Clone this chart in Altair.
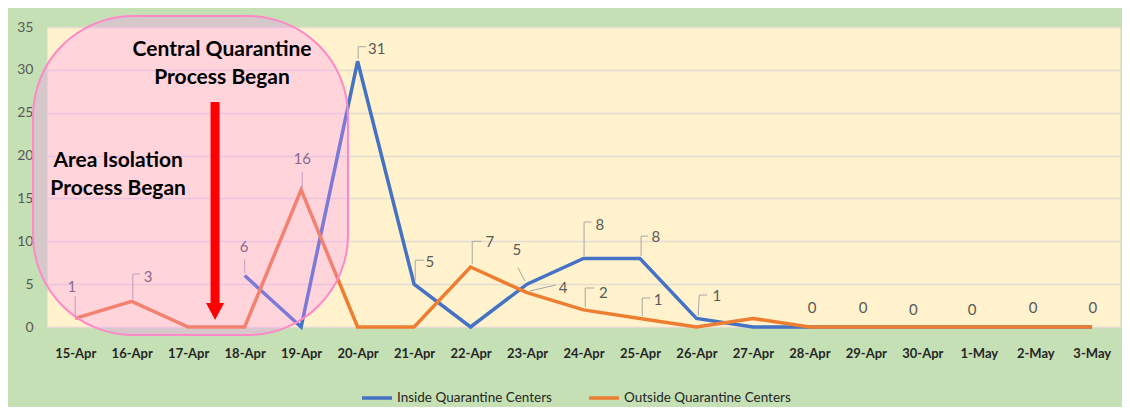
import altair as alt
import pandas as pd

# ---------------- data ----------------
dates = ["15-Apr", "16-Apr", "17-Apr", "18-Apr", "19-Apr", "20-Apr", "21-Apr",
         "22-Apr", "23-Apr", "24-Apr", "25-Apr", "26-Apr", "27-Apr", "28-Apr",
         "29-Apr", "30-Apr", "1-May", "2-May", "3-May"]
inside = [None, None, None, 6, 0, 31, 5, 0, 5, 8, 8, 1, 0, 0, 0, 0, 0, 0, 0]
outside = [1, 3, 0, 0, 16, 0, 0, 7, 4, 2, 1, 0, 1, 0, 0, 0, 0, 0, 0]
series_names = ["Inside Quarantine Centers", "Outside Quarantine Centers"]
series_colors = ["#4472C4", "#ED7D31"]
y_ticks = [0, 5, 10, 15, 20, 25, 30, 35]

# data labels: text, position (x in category index units, y in value units)
label_text = ["1", "3", "6", "16", "31", "5", "7", "5", "4", "8", "2", "8", "1", "1",
              "0", "0", "0", "0", "0", "0"]
label_x = [-0.06, 1.29, 2.99, 4.02, 5.34, 6.28, 7.34, 7.82, 8.64, 9.29, 9.35, 10.28,
           10.32, 11.36, 13.05, 13.95, 14.84, 15.88, 16.96, 18.02]
label_y = [4.67, 5.83, 9.33, 19.6, 32.43, 7.58, 9.92, 8.98, 4.55, 11.9, 3.97, 10.5,
           3.15, 3.62, 2.22, 2.22, 1.98, 1.98, 2.22, 2.22]

# leader lines (polylines) for the data labels
leaders = [
    [(0.0, 1.17), (0.0, 3.62)],
    [(1.02, 3.27), (1.02, 6.18), (1.15, 6.18)],
    [(3.0, 6.3), (3.0, 7.9)],
    [(4.02, 16.2), (4.02, 18.1)],
    [(5.01, 31.3), (5.01, 32.7), (5.15, 32.7)],
    [(6.02, 5.4), (6.02, 7.8), (6.18, 7.8)],
    [(7.03, 7.35), (7.03, 10.0), (7.19, 10.0)],
    [(7.96, 5.37), (7.84, 6.9)],
    [(8.05, 4.2), (8.51, 4.9)],
    [(9.01, 8.28), (9.01, 12.25), (9.14, 12.25)],
    [(9.03, 2.33), (9.03, 4.55), (9.19, 4.55)],
    [(10.02, 8.28), (10.02, 10.6), (10.14, 10.6)],
    [(10.04, 1.28), (10.04, 3.38), (10.18, 3.38)],
    [(11.03, 1.28), (11.05, 3.73), (11.19, 3.73)],
]

# annotations
note_text = ["Central Quarantine", "Process Began", "Area Isolation", "Process Began"]
note_x = [2.60, 2.60, 0.76, 0.76]
note_y = [32.3, 29.05, 19.37, 16.1]
box = {"x": -0.747, "x2": 4.83, "y": 36.28, "y2": -0.93}
arrow_x = 2.476
arrow_top = 26.25
arrow_shaft_end = 2.57
arrow_head_y = 1.75

# ---------------- tables ----------------
rows = []
for name, vals in zip(series_names, [inside, outside]):
    for i, v in enumerate(vals):
        if v is not None:
            rows.append({"x": i, "y": v, "series": name})
df_lines = pd.DataFrame(rows)
df_labels = pd.DataFrame({"x": label_x, "y": label_y, "t": label_text})
lrows = []
for k, pts in enumerate(leaders):
    for j, (px, py) in enumerate(pts):
        lrows.append({"id": k, "o": j, "x": px, "y": py})
df_leaders = pd.DataFrame(lrows)
df_notes = pd.DataFrame({"x": note_x, "y": note_y, "t": note_text})
df_box = pd.DataFrame([box])
df_shaft = pd.DataFrame([{"x": arrow_x, "y": arrow_top, "y2": arrow_shaft_end}])
df_head = pd.DataFrame([{"x": arrow_x, "y": arrow_head_y}])

label_expr = "[" + ",".join("'%s'" % d for d in dates) + "][datum.value]"

x_enc = alt.X("x:Q",
              scale=alt.Scale(domain=[-0.5, len(dates) - 0.5], nice=False, zero=False),
              axis=alt.Axis(values=list(range(len(dates))), labelExpr=label_expr,
                            grid=False, ticks=False, domain=False, title=None,
                            labelFont="Lato", labelFontSize=13, labelFontWeight="bold",
                            labelColor="#262626", labelPadding=20, labelAngle=0))
y_enc = alt.Y("y:Q",
              scale=alt.Scale(domain=[0, 35], nice=False, zero=False),
              axis=alt.Axis(values=y_ticks, grid=True, gridColor="#E4DCD2",
                            gridWidth=1.5, ticks=False, domain=False, title=None,
                            labelFont="Lato", labelFontSize=14, labelColor="#595959",
                            labelPadding=14))

lines = alt.Chart(df_lines).mark_line(strokeWidth=3.5).encode(
    x=x_enc, y=y_enc,
    color=alt.Color("series:N",
                    scale=alt.Scale(domain=series_names, range=series_colors),
                    legend=alt.Legend(orient="none", legendX=313, legendY=354,
                                      direction="horizontal", title=None,
                                      symbolType="stroke", symbolStrokeWidth=3.5,
                                      symbolSize=900, labelFont="Lato",
                                      labelFontSize=13.5, labelColor="#262626",
                                      columnPadding=30, padding=0, labelOffset=3,
                                      labelLimit=400)),
)

leader_lines = alt.Chart(df_leaders).mark_line(color="#A6A6A6", strokeWidth=1).encode(
    x=x_enc, y=y_enc, detail="id:N", order="o:Q")

labels = alt.Chart(df_labels).mark_text(
    font="Lato", fontSize=15, color="#595959", align="center", baseline="middle"
).encode(x=x_enc, y=y_enc, text="t:N")

overlay = alt.Chart(df_box).mark_rect(
    cornerRadius=100, fill="#FF90FF", fillOpacity=0.3, stroke="#FF88C8",
    strokeWidth=2, strokeOpacity=1
).encode(x=x_enc, x2="x2:Q", y=y_enc, y2="y2:Q")

notes = alt.Chart(df_notes).mark_text(
    font="Lato", fontSize=21, fontWeight="bold", color="#000000",
    align="center", baseline="middle"
).encode(x=x_enc, y=y_enc, text="t:N")

shaft = alt.Chart(df_shaft).mark_rule(color="#FF0000", strokeWidth=9).encode(
    x=x_enc, y=y_enc, y2="y2:Q")

head = alt.Chart(df_head).mark_point(
    shape="M-1,-1L1,-1L0,0.9Z", size=324, filled=True, color="#FF0000",
    opacity=1, strokeWidth=0
).encode(x=x_enc, y=y_enc)

chart = alt.layer(lines, leader_lines, labels, overlay, notes, shaft, head).properties(
    width=1073, height=300,
    padding={"left": 39, "top": 19, "right": 2, "bottom": 80},
    autosize=alt.AutoSizeParams(type="none"),
    background="#C5E0B4",
).configure_view(fill="#FFF2CC", stroke="transparent")

chart.save("out.html", embed_options={"renderer": "svg", "actions": False})
